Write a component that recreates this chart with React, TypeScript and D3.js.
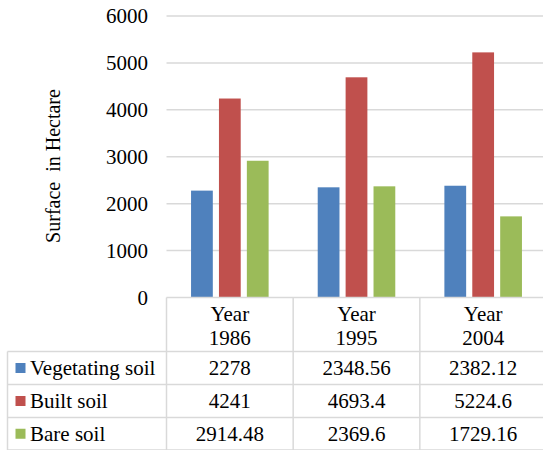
import React from "react";
import * as d3 from "d3";

const years = ["1986", "1995", "2004"];
const seriesNames = ["Vegetating soil", "Built soil", "Bare soil"];
const vegetatingSoil = [2278, 2348.56, 2382.12];
const builtSoil = [4241, 4693.4, 5224.6];
const bareSoil = [2914.48, 2369.6, 1729.16];
const yTicks = [0, 1000, 2000, 3000, 4000, 5000, 6000];
const colors = ["#4F81BD", "#C0504D", "#9BBB59"];

const W = 543;
const H = 450;
const FONT = "Liberation Serif";
const FS = 21;

export default function App() {
  const seriesValues = [vegetatingSoil, builtSoil, bareSoil];

  const x = d3.scaleBand<string>().domain(years).range([166.5, 546.5]).padding(0);
  const inner = d3
    .scaleBand<string>()
    .domain(seriesNames)
    .range([0, x.bandwidth()])
    .paddingInner(0.22)
    .paddingOuter(0.88);
  const y = d3.scaleLinear().domain([0, 6000]).range([297.5, 16]);

  const gridColor = "#d9d9d9";
  const headerTop = 297.5;
  const rowLines = [351.5, 384.5, 417.5, 450];
  const tableLeft = 7.5;
  const colEdges = [x(years[0])!, x(years[1])!, x(years[2])!, 546.5];
  const txt: React.CSSProperties = { fontFamily: FONT, fontSize: FS };

  return (
    <svg width={W} height={H} style={{ position: "absolute", left: 0, top: 0, background: "#fff" }}>
      <rect width={W} height={H} fill="#fff" />
      {/* gridlines */}
      {yTicks.slice(1).map((t) => (
        <line key={t} x1={166.5} x2={W} y1={y(t)} y2={y(t)} stroke={gridColor} strokeWidth={1.5} />
      ))}
      {/* tick labels */}
      {yTicks.map((t) => (
        <text key={t} x={148} y={y(t) + 7} textAnchor="end" style={txt} fill="#000">
          {String(t)}
        </text>
      ))}
      {/* axis title */}
      <text
        transform={`translate(60,166) rotate(-90)`}
        textAnchor="middle"
        fill="#000"
        style={{ ...txt, fontSize: 20, whiteSpace: "pre" }}
      >
        {"Surface  in Hectare"}
      </text>
      {/* bars */}
      {years.map((yr, i) => (
        <g key={yr} transform={`translate(${x(yr)},0)`}>
          {seriesNames.map((s, j) => (
            <rect
              key={s}
              x={inner(s)}
              y={y(seriesValues[j][i])}
              width={inner.bandwidth()}
              height={y(0) - y(seriesValues[j][i])}
              fill={colors[j]}
            />
          ))}
        </g>
      ))}
      {/* data table */}
      <g stroke={gridColor} strokeWidth={1.5} fill="none">
        <line x1={166.5} x2={W} y1={headerTop} y2={headerTop} />
        {rowLines.map((ry) => (
          <line key={ry} x1={tableLeft} x2={W} y1={ry} y2={ry} />
        ))}
        <line x1={tableLeft} x2={tableLeft} y1={rowLines[0]} y2={H} />
        {colEdges.map((cx) => (
          <line key={cx} x1={cx} x2={cx} y1={headerTop} y2={H} />
        ))}
      </g>
      {years.map((yr) => {
        const cx = x(yr)! + x.bandwidth() / 2;
        return (
          <g key={yr}>
            <text x={cx} y={321} textAnchor="middle" fill="#000" style={txt}>Year</text>
            <text x={cx} y={345} textAnchor="middle" fill="#000" style={txt}>{yr}</text>
          </g>
        );
      })}
      {seriesNames.map((s, j) => {
        const top = rowLines[j];
        const mid = (top + rowLines[j + 1]) / 2;
        return (
          <g key={s}>
            <rect x={15.5} y={mid - 5} width={10} height={10} fill={colors[j]} />
            <text x={30} y={mid + 7} fill="#000" style={txt}>
              {s}
            </text>
            {years.map((yr, i) => (
              <text
                key={yr}
                x={x(yr)! + x.bandwidth() / 2}
                y={mid + 7}
                textAnchor="middle"
                fill="#000"
                style={txt}
              >
                {String(seriesValues[j][i])}
              </text>
            ))}
          </g>
        );
      })}
    </svg>
  );
}
